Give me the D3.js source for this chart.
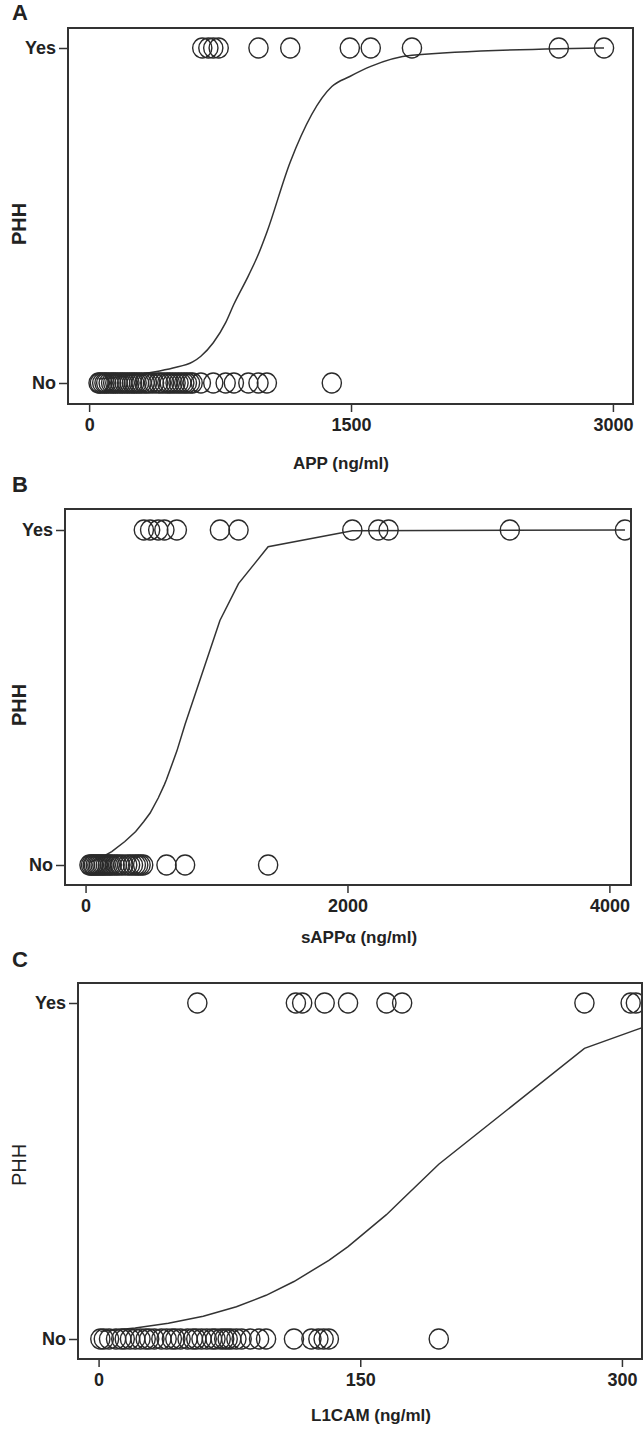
<!DOCTYPE html>
<html>
<head>
<meta charset="utf-8">
<script src="https://cdn.jsdelivr.net/npm/d3@7"></script>
<style>
  body { margin: 0; background: #fff; }
  svg { display: block; }
  text { font-family: "Liberation Sans", Arial, sans-serif; fill: #222; }
</style>
</head>
<body>
<div id="chart"></div>
<script>
// ---- data: PHH outcome (No = 0, Yes = 1) against biomarker level ----

// A: APP (ng/ml)
var appNo = [54, 62, 75, 88, 98, 112, 126, 138, 150, 163, 178, 190, 204, 218, 231, 246, 258, 272, 286, 300, 318, 332,
  350, 372, 395, 412, 430, 448, 462, 478, 495, 512, 528, 545, 560, 578, 593, 640, 711, 782, 829, 912, 970, 1018, 1390];
var appYes = [648, 683, 711, 742, 970, 1152, 1493, 1613, 1849, 2690, 2949];
// fitted probability read at the observed values
var appFit = [[54, 0.012], [200, 0.02], [370, 0.033], [480, 0.045], [593, 0.063], [640, 0.08], [711, 0.12],
  [782, 0.18], [829, 0.235], [912, 0.32], [970, 0.385], [1018, 0.45], [1152, 0.66], [1390, 0.885], [1493, 0.915],
  [1613, 0.945], [1849, 0.978], [2690, 0.998], [2949, 1.0]];

// B: sAPPalpha (ng/ml)
var sappNo = [30, 42, 55, 64, 78, 90, 102, 115, 128, 140, 155, 170, 186, 200, 222, 240, 262, 288, 318, 340, 362,
  384, 402, 420, 440, 618, 760, 1394];
var sappYes = [445, 493, 555, 602, 697, 1026, 1168, 2037, 2235, 2314, 3240, 4119];
var sappFit = [[30, 0.008], [100, 0.018], [200, 0.04], [300, 0.07], [383, 0.1], [445, 0.13], [493, 0.155],
  [555, 0.2], [602, 0.24], [618, 0.255], [697, 0.34], [760, 0.42], [1026, 0.73], [1168, 0.84], [1394, 0.95],
  [2037, 0.998], [4119, 1.0]];

// C: L1CAM (ng/ml)
var l1camNo = [1, 3, 6, 10, 13, 15, 18, 21, 24, 27, 29, 32, 36, 39, 42, 44, 47, 51, 54, 56, 59, 62, 65, 67, 70,
  72, 74, 76, 79, 82, 87, 92, 96, 112, 122, 126, 129, 132, 195];
var l1camYes = [56.6, 113.1, 116.7, 129.6, 143, 165, 174, 278.5, 305, 308];
var l1camFit = [[1, 0.022], [21, 0.033], [40, 0.047], [60, 0.068], [79, 0.096], [96, 0.13], [112, 0.171],
  [132, 0.234], [143, 0.275], [165, 0.37], [174, 0.415], [195, 0.52], [278.5, 0.865], [308, 0.92], [312, 0.927]];

var phhLabels = ['No', 'Yes'];
var appTicks = [0, 1500, 3000];
var sappTicks = [0, 2000, 4000];
var l1camTicks = [0, 150, 300];

// ---- panel layout ----
var panels = [
  { letter: 'A', title: 'APP (ng/ml)', no: appNo, yes: appYes, fit: appFit, ticks: appTicks,
    domain: [-121, 3115], left: 68, right: 633, top: 28, bottom: 404, yYes: 48, yNo: 383,
    letterY: 20, titleX: 341, titleY: 469, phhY: 224, phhBold: true, smooth: true },
  { letter: 'B', title: 'sAPP\u03b1 (ng/ml)', no: sappNo, yes: sappYes, fit: sappFit, ticks: sappTicks,
    domain: [-157, 4165], left: 65, right: 631, top: 509, bottom: 885, yYes: 530, yNo: 865,
    letterY: 492, titleX: 359, titleY: 943, phhY: 705, phhBold: true, smooth: false },
  { letter: 'C', title: 'L1CAM (ng/ml)', no: l1camNo, yes: l1camYes, fit: l1camFit, ticks: l1camTicks,
    domain: [-11.8, 311.5], left: 78, right: 642, top: 983, bottom: 1359, yYes: 1003, yNo: 1339,
    letterY: 967, titleX: 371, titleY: 1421, phhY: 1165, phhBold: false, smooth: false }
];

var svg = d3.select('#chart').append('svg')
  .attr('width', 644)
  .attr('height', 1429);

function styleAxis(a) {
  a.select('.domain').remove();
  a.selectAll('line').attr('stroke', '#333').attr('stroke-width', 1.5);
  a.selectAll('text').style('font-size', '18px').style('font-weight', 'bold')
    .style('font-family', '"Liberation Sans", Arial, sans-serif').attr('fill', '#222');
}

panels.forEach(function(p, i) {
  var x = d3.scaleLinear().domain(p.domain).range([p.left, p.right]);
  var y = d3.scaleLinear().domain([0, 1]).range([p.yNo, p.yYes]);
  var g = svg.append('g');

  // clip for markers and fitted line
  g.append('clipPath').attr('id', 'clip' + i)
    .append('rect')
    .attr('x', p.left).attr('y', p.top)
    .attr('width', p.right - p.left).attr('height', p.bottom - p.top);

  // panel letter
  g.append('text')
    .attr('x', 12).attr('y', p.letterY)
    .style('font-size', '22px').style('font-weight', 'bold')
    .text(p.letter);

  // y axis (No / Yes)
  g.append('g')
    .attr('transform', 'translate(' + p.left + ',0)')
    .call(d3.axisLeft(y).tickValues([0, 1]).tickSize(9).tickPadding(3)
      .tickFormat(function(d) { return phhLabels[d]; }))
    .call(styleAxis);

  // x axis
  g.append('g')
    .attr('transform', 'translate(0,' + p.bottom + ')')
    .call(d3.axisBottom(x).tickValues(p.ticks).tickSize(8).tickPadding(6).tickFormat(d3.format('d')))
    .call(styleAxis);

  // axis titles
  g.append('text')
    .attr('x', p.titleX).attr('y', p.titleY)
    .attr('text-anchor', 'middle')
    .style('font-size', '17px').style('font-weight', 'bold')
    .text(p.title);

  g.append('text')
    .attr('transform', 'translate(26,' + p.phhY + ') rotate(-90)')
    .attr('text-anchor', 'middle')
    .style('font-size', '20px')
    .style('font-weight', p.phhBold ? 'bold' : 'normal')
    .text('PHH');

  var plot = g.append('g').attr('clip-path', 'url(#clip' + i + ')');

  // fitted probability line
  var line = d3.line()
    .x(function(d) { return x(d[0]); })
    .y(function(d) { return y(d[1]); })
    .curve(p.smooth ? d3.curveMonotoneX : d3.curveLinear);
  plot.append('path')
    .datum(p.fit)
    .attr('fill', 'none')
    .attr('stroke', '#333')
    .attr('stroke-width', 1.5)
    .attr('d', line);

  // observations
  var obs = p.no.map(function(v) { return [v, 0]; }).concat(p.yes.map(function(v) { return [v, 1]; }));
  plot.selectAll('ellipse')
    .data(obs)
    .enter()
    .append('ellipse')
    .attr('cx', function(d) { return x(d[0]); })
    .attr('cy', function(d) { return y(d[1]); })
    .attr('rx', 9.6)
    .attr('ry', 10)
    .attr('fill', 'none')
    .attr('stroke', '#2a2a2a')
    .attr('stroke-width', 1.4);

  // plot frame
  g.append('rect')
    .attr('x', p.left).attr('y', p.top)
    .attr('width', p.right - p.left).attr('height', p.bottom - p.top)
    .attr('fill', 'none')
    .attr('stroke', '#333')
    .attr('stroke-width', 2);
});
</script>
</body>
</html>
